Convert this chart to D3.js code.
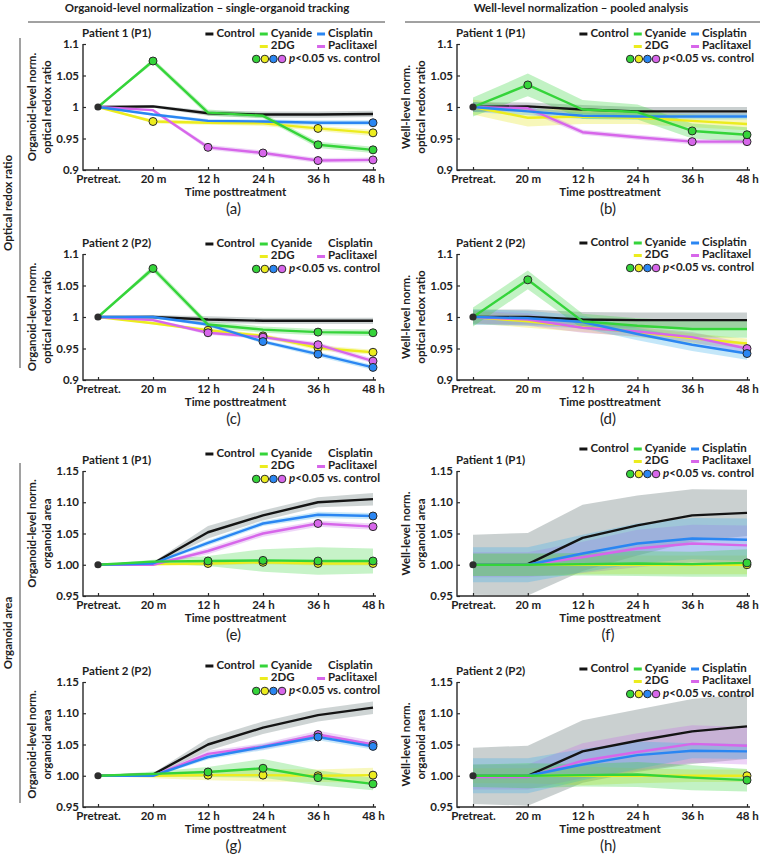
<!DOCTYPE html>
<html>
<head>
<meta charset="utf-8">
<script src="https://cdn.jsdelivr.net/npm/d3@7"></script>
<style>
  body { margin: 0; background: #fff; }
  svg text { font-family: Lato, 'Open Sans', sans-serif; fill: #1e1e1e; }
</style>
</head>
<body>
<svg id="fig" width="760" height="860"></svg>
<script>
// ---- data ----
const times = ['Pretreat.', '20 m', '12 h', '24 h', '36 h', '48 h'];
const seriesNames = ['Control', 'Cyanide', 'Cisplatin', '2DG', 'Paclitaxel'];
const seriesColors = ['#141414', '#35d43a', '#2a86f2', '#ecec1e', '#d766ea'];
const bandColors = ['#4f6363', '#35d43a', '#3aaeea', '#e6e61a', '#c46ee6'];

const redoxTicks = [0.9, 0.95, 1, 1.05, 1.1];
const areaTicks = [0.95, 1.0, 1.05, 1.1, 1.15];

// rows: Control, Cyanide, Cisplatin, 2DG, Paclitaxel
// (a) organoid-level redox ratio, P1
const aMean = [
  [1, 1.001, 0.990, 0.988, 0.988, 0.989],
  [1, 1.073, 0.991, 0.986, 0.940, 0.932],
  [1, 0.988, 0.978, 0.977, 0.975, 0.975],
  [1, 0.977, 0.975, 0.974, 0.966, 0.959],
  [1, 0.995, 0.936, 0.927, 0.915, 0.916]
];
const aErr = [
  [0, 0.002, 0.004, 0.005, 0.005, 0.005],
  [0, 0.004, 0.005, 0.004, 0.005, 0.005],
  [0, 0.002, 0.003, 0.003, 0.004, 0.004],
  [0, 0.003, 0.003, 0.004, 0.004, 0.005],
  [0, 0.002, 0.004, 0.004, 0.004, 0.004]
];
const aSig = [[], [1, 4, 5], [5], [1, 4, 5], [2, 3, 4, 5]];

// (b) well-level redox ratio, P1
const bMean = [
  [1, 1.001, 0.996, 0.993, 0.993, 0.993],
  [1, 1.035, 0.996, 0.992, 0.962, 0.956],
  [1, 0.993, 0.986, 0.985, 0.985, 0.985],
  [1, 0.983, 0.985, 0.983, 0.978, 0.973],
  [1, 0.998, 0.960, 0.952, 0.945, 0.945]
];
const bErr = [
  [0.008, 0.006, 0.007, 0.007, 0.007, 0.007],
  [0.015, 0.018, 0.015, 0.012, 0.012, 0.012],
  [0.008, 0.006, 0.005, 0.005, 0.005, 0.005],
  [0.012, 0.014, 0.012, 0.010, 0.010, 0.010],
  [0.008, 0.005, 0.004, 0.004, 0.004, 0.004]
];
const bSig = [[], [1, 4, 5], [], [], [4, 5]];

// (c) organoid-level redox ratio, P2
const cMean = [
  [1, 1.000, 0.996, 0.994, 0.994, 0.994],
  [1, 1.077, 0.988, 0.980, 0.976, 0.975],
  [1, 1.000, 0.988, 0.961, 0.941, 0.920],
  [1, 0.990, 0.979, 0.970, 0.951, 0.944],
  [1, 0.995, 0.975, 0.968, 0.956, 0.930]
];
const cErr = [
  [0, 0.003, 0.005, 0.005, 0.005, 0.005],
  [0, 0.005, 0.005, 0.005, 0.005, 0.005],
  [0, 0.002, 0.003, 0.003, 0.004, 0.004],
  [0, 0.002, 0.003, 0.003, 0.004, 0.004],
  [0, 0.002, 0.003, 0.003, 0.004, 0.004]
];
const cSig = [[], [1, 4, 5], [3, 4, 5], [2, 3, 4, 5], [2, 3, 4, 5]];

// (d) well-level redox ratio, P2
const dMean = [
  [1, 1.000, 0.996, 0.995, 0.995, 0.995],
  [1, 1.059, 0.993, 0.986, 0.981, 0.981],
  [1, 0.998, 0.992, 0.973, 0.956, 0.942],
  [1, 0.993, 0.984, 0.976, 0.966, 0.958],
  [1, 0.996, 0.983, 0.977, 0.968, 0.950]
];
const dErr = [
  [0.012, 0.012, 0.012, 0.012, 0.012, 0.012],
  [0.015, 0.015, 0.012, 0.012, 0.013, 0.014],
  [0.012, 0.012, 0.010, 0.010, 0.010, 0.010],
  [0.010, 0.010, 0.008, 0.008, 0.008, 0.008],
  [0.010, 0.010, 0.008, 0.008, 0.008, 0.008]
];
const dSig = [[], [1], [5], [], [5]];

// (e) organoid-level area, P1
const eMean = [
  [1, 1.002, 1.052, 1.079, 1.100, 1.105],
  [1, 1.005, 1.006, 1.007, 1.006, 1.006],
  [1, 1.002, 1.035, 1.066, 1.080, 1.078],
  [1, 1.001, 1.002, 1.004, 1.002, 1.002],
  [1, 1.000, 1.022, 1.050, 1.066, 1.061]
];
const eErr = [
  [0, 0.002, 0.010, 0.008, 0.008, 0.010],
  [0, 0.003, 0.008, 0.018, 0.022, 0.020],
  [0, 0.002, 0.004, 0.004, 0.005, 0.005],
  [0, 0.002, 0.003, 0.003, 0.003, 0.003],
  [0, 0.002, 0.005, 0.005, 0.005, 0.005]
];
const eSig = [[], [2, 3, 4, 5], [5], [2, 3, 4, 5], [4, 5]];

// (f) well-level area, P1
const fMean = [
  [1, 1.001, 1.043, 1.063, 1.079, 1.083],
  [1, 1.000, 1.001, 1.002, 1.001, 1.003],
  [1, 1.000, 1.018, 1.034, 1.042, 1.040],
  [1, 1.000, 1.000, 1.000, 1.000, 1.000],
  [1, 1.000, 1.012, 1.026, 1.034, 1.031]
];
const fErr = [
  [0.048, 0.050, 0.053, 0.048, 0.042, 0.037],
  [0.018, 0.018, 0.018, 0.020, 0.020, 0.022],
  [0.028, 0.028, 0.030, 0.032, 0.033, 0.034],
  [0.018, 0.018, 0.015, 0.015, 0.015, 0.015],
  [0.020, 0.020, 0.025, 0.030, 0.030, 0.032]
];
const fSig = [[], [5], [], [5], []];

// (g) organoid-level area, P2
const gMean = [
  [1, 1.002, 1.050, 1.077, 1.097, 1.109],
  [1, 1.003, 1.006, 1.012, 0.997, 0.987],
  [1, 1.000, 1.030, 1.046, 1.062, 1.047],
  [1, 1.000, 1.001, 1.001, 1.000, 1.001],
  [1, 1.000, 1.035, 1.047, 1.066, 1.050]
];
const gErr = [
  [0, 0.002, 0.010, 0.010, 0.010, 0.010],
  [0, 0.004, 0.008, 0.015, 0.012, 0.010],
  [0, 0.002, 0.004, 0.005, 0.005, 0.005],
  [0, 0.004, 0.008, 0.010, 0.010, 0.012],
  [0, 0.002, 0.005, 0.005, 0.006, 0.006]
];
const gSig = [[], [2, 3, 4, 5], [4, 5], [2, 3, 4, 5], [4, 5]];

// (h) well-level area, P2
const hMean = [
  [1, 1.000, 1.039, 1.056, 1.071, 1.079],
  [1, 1.000, 1.001, 1.002, 0.997, 0.993],
  [1, 1.000, 1.018, 1.033, 1.040, 1.039],
  [1, 1.000, 1.000, 1.000, 1.000, 1.000],
  [0.998, 0.998, 1.024, 1.038, 1.051, 1.048]
];
const hErr = [
  [0.045, 0.048, 0.050, 0.050, 0.052, 0.052],
  [0.018, 0.020, 0.018, 0.020, 0.020, 0.018],
  [0.028, 0.028, 0.025, 0.022, 0.012, 0.012],
  [0.012, 0.012, 0.015, 0.012, 0.010, 0.010],
  [0.020, 0.020, 0.028, 0.030, 0.030, 0.030]
];
const hSig = [[], [5], [], [5], []];

// ---- layout ----
const cols = [
  { axisX: 83, x0: 98, x5: 373 },
  { axisX: 457, x0: 473, x5: 747 }
];

const panels = [
  { tag: '(a)', col: 0, top: 44, h: 126, kind: 'redox', norm: 'org', patient: 'Patient 1 (P1)', mean: aMean, err: aErr, sig: aSig, legDy: -10, noDash: [] },
  { tag: '(b)', col: 1, top: 44, h: 126, kind: 'redox', norm: 'well', patient: 'Patient 1 (P1)', mean: bMean, err: bErr, sig: bSig, legDy: -10, noDash: [] },
  { tag: '(c)', col: 0, top: 254, h: 126, kind: 'redox', norm: 'org', patient: 'Patient 2 (P2)', mean: cMean, err: cErr, sig: cSig, legDy: -10, noDash: [2] },
  { tag: '(d)', col: 1, top: 254, h: 126, kind: 'redox', norm: 'well', patient: 'Patient 2 (P2)', mean: dMean, err: dErr, sig: dSig, legDy: -11, noDash: [] },
  { tag: '(e)', col: 0, top: 471, h: 125, kind: 'area', norm: 'org', patient: 'Patient 1 (P1)', mean: eMean, err: eErr, sig: eSig, legDy: -17, noDash: [2] },
  { tag: '(f)', col: 1, top: 471, h: 125, kind: 'area', norm: 'well', patient: 'Patient 1 (P1)', mean: fMean, err: fErr, sig: fSig, legDy: -22, noDash: [] },
  { tag: '(g)', col: 0, top: 682, h: 125, kind: 'area', norm: 'org', patient: 'Patient 2 (P2)', mean: gMean, err: gErr, sig: gSig, legDy: -16, noDash: [2] },
  { tag: '(h)', col: 1, top: 682, h: 125, kind: 'area', norm: 'well', patient: 'Patient 2 (P2)', mean: hMean, err: hErr, sig: hSig, legDy: -13, noDash: [] }
];

const drawOrder = [0, 3, 4, 2, 1];
const sigColors = [1, 3, 2, 4]; // legend circles: green, yellow, blue, magenta
const svg = d3.select('#fig');
const axisColor = '#2a2a2a';
const FS = '11.5px';

function label(sel, txt, size, weight) {
  return sel.append('text').attr('dominant-baseline', 'middle')
    .style('font-size', size || FS).style('font-weight', weight || 700).text(txt);
}

// column headers
label(svg, 'Organoid-level normalization – single-organoid tracking')
  .attr('x', 207).attr('y', 9).attr('text-anchor', 'middle');
label(svg, 'Well-level normalization – pooled analysis')
  .attr('x', 581).attr('y', 9).attr('text-anchor', 'middle');
svg.append('line').attr('x1', 28).attr('x2', 385).attr('y1', 22).attr('y2', 22)
  .attr('stroke', '#444').attr('stroke-width', 1);
svg.append('line').attr('x1', 405).attr('x2', 760).attr('y1', 22).attr('y2', 22)
  .attr('stroke', '#444').attr('stroke-width', 1);

// row headers
[['Optical redox ratio', 38, 368], ['Organoid area', 463, 803]].forEach(([txt, y1, y2]) => {
  svg.append('line').attr('x1', 20).attr('x2', 20).attr('y1', y1).attr('y2', y2)
    .attr('stroke', '#444').attr('stroke-width', 1);
  label(svg, txt).attr('transform', `translate(9,${(y1 + y2) / 2}) rotate(-90)`)
    .attr('text-anchor', 'middle');
});

panels.forEach(p => {
  const c = cols[p.col];
  const ticks = p.kind === 'redox' ? redoxTicks : areaTicks;
  const fmt = p.kind === 'redox' ? d3.format('') : d3.format('.2f');
  const bottom = p.top + p.h;

  const x = d3.scalePoint().domain(times).range([c.x0, c.x5]);
  const y = d3.scaleLinear().domain([ticks[0], ticks[ticks.length - 1]]).range([bottom, p.top]);

  const g = svg.append('g');

  // bands
  const bandOpacity = p.norm === 'well' ? 0.3 : 0.28;
  drawOrder.forEach(si => {
    const pts = times.map((t, i) => ({ t, m: p.mean[si][i], e: p.err[si][i] }));
    g.append('path').datum(pts)
      .attr('fill', bandColors[si]).attr('fill-opacity', bandOpacity)
      .attr('d', d3.area().x(d => x(d.t)).y0(d => y(d.m - d.e)).y1(d => y(d.m + d.e)));
  });

  // lines
  drawOrder.forEach(si => {
    const pts = times.map((t, i) => ({ t, m: p.mean[si][i] }));
    g.append('path').datum(pts)
      .attr('fill', 'none').attr('stroke', seriesColors[si]).attr('stroke-width', 2.4)
      .attr('stroke-linejoin', 'round')
      .attr('d', d3.line().x(d => x(d.t)).y(d => y(d.m)));
  });

  // pretreatment reference dot
  g.append('circle').attr('cx', x(times[0])).attr('cy', y(1)).attr('r', 3.6).attr('fill', '#2e2e2e');

  // significance markers
  drawOrder.forEach(si => {
    p.sig[si].forEach(i => {
      g.append('circle').attr('cx', x(times[i])).attr('cy', y(p.mean[si][i])).attr('r', 4)
        .attr('fill', seriesColors[si]).attr('stroke', '#2a2a2a').attr('stroke-width', 1);
    });
  });

  // axes
  const xAxis = g.append('g').attr('transform', `translate(0,${bottom})`)
    .call(d3.axisBottom(x).tickSize(-3).tickSizeOuter(0).tickPadding(5));
  const yAxis = g.append('g').attr('transform', `translate(${c.axisX},0)`)
    .call(d3.axisLeft(y).tickValues(ticks).tickFormat(fmt).tickSize(-3).tickSizeOuter(0).tickPadding(4));
  [xAxis, yAxis].forEach(a => {
    a.select('.domain').remove();
    a.selectAll('line').attr('stroke', axisColor).attr('stroke-width', 1.2);
    a.selectAll('text').style('font-size', FS).style('font-weight', 700)
      .style('font-family', "Lato, 'Open Sans', sans-serif").attr('fill', '#1e1e1e');
  });
  g.append('path').attr('fill', 'none').attr('stroke', axisColor).attr('stroke-width', 1.4)
    .attr('d', `M${c.axisX},${p.top}V${bottom}H${c.x5 + 3}`);

  // axis titles
  label(g, 'Time posttreatment').attr('x', (c.x0 + c.x5) / 2).attr('y', bottom + 23)
    .attr('text-anchor', 'middle');
  const yLab = [p.norm === 'org' ? 'Organoid-level norm.' : 'Well-level norm.',
    p.kind === 'redox' ? 'optical redox ratio' : 'organoid area'];
  yLab.forEach((t, k) => {
    label(g, t).attr('transform', `translate(${c.axisX - 50 + k * 15},${p.top + p.h / 2}) rotate(-90)`)
      .attr('text-anchor', 'middle');
  });

  // panel letter
  label(g, p.tag, '15px', 400).attr('x', (c.x0 + c.x5) / 2 - 2).attr('y', bottom + 40)
    .attr('text-anchor', 'middle');

  // patient label
  label(g, p.patient).attr('x', c.axisX - 1).attr('y', p.top - 10);

  // legend: laid out right-to-left so it ends at the plot's right edge
  const R = c.x5 + 4;
  const ly = p.top + p.legDy;
  const leg = g.append('g');
  const rowY = [ly, ly + 12.5, ly + 25];
  const entry = (si, xDash, yy) => {
    if (!p.noDash.includes(si)) {
      leg.append('line').attr('x1', xDash).attr('x2', xDash + 8).attr('y1', yy).attr('y2', yy)
        .attr('stroke', seriesColors[si]).attr('stroke-width', 3);
    }
    return label(leg, seriesNames[si]).attr('x', xDash + 11).attr('y', yy);
  };
  // measure widths
  const w = seriesNames.map(n => {
    const t = label(leg, n).attr('opacity', 0);
    const len = t.node().getComputedTextLength();
    t.remove();
    return len;
  });
  const col3 = R - Math.max(w[2], w[4]) - 11;
  const col2 = col3 - 5 - w[1] - 11;
  const col1 = col2 - 5 - w[0] - 11;
  entry(0, col1, rowY[0]);
  entry(1, col2, rowY[0]);
  entry(2, col3, rowY[0]);
  entry(3, col2, rowY[1]);
  entry(4, col3, rowY[1]);

  const pt = label(leg, '').attr('x', R + 3).attr('y', rowY[2]).attr('text-anchor', 'end');
  pt.append('tspan').style('font-style', 'italic').text('p');
  pt.append('tspan').text('<0.05 vs. control');
  const ptStart = R + 3 - pt.node().getComputedTextLength();
  sigColors.forEach((si, k) => {
    leg.append('circle').attr('cx', ptStart - 7 - (3 - k) * 8.6).attr('cy', rowY[2]).attr('r', 3.8)
      .attr('fill', seriesColors[si]).attr('stroke', '#2a2a2a').attr('stroke-width', 1);
  });
});
</script>
</body>
</html>
